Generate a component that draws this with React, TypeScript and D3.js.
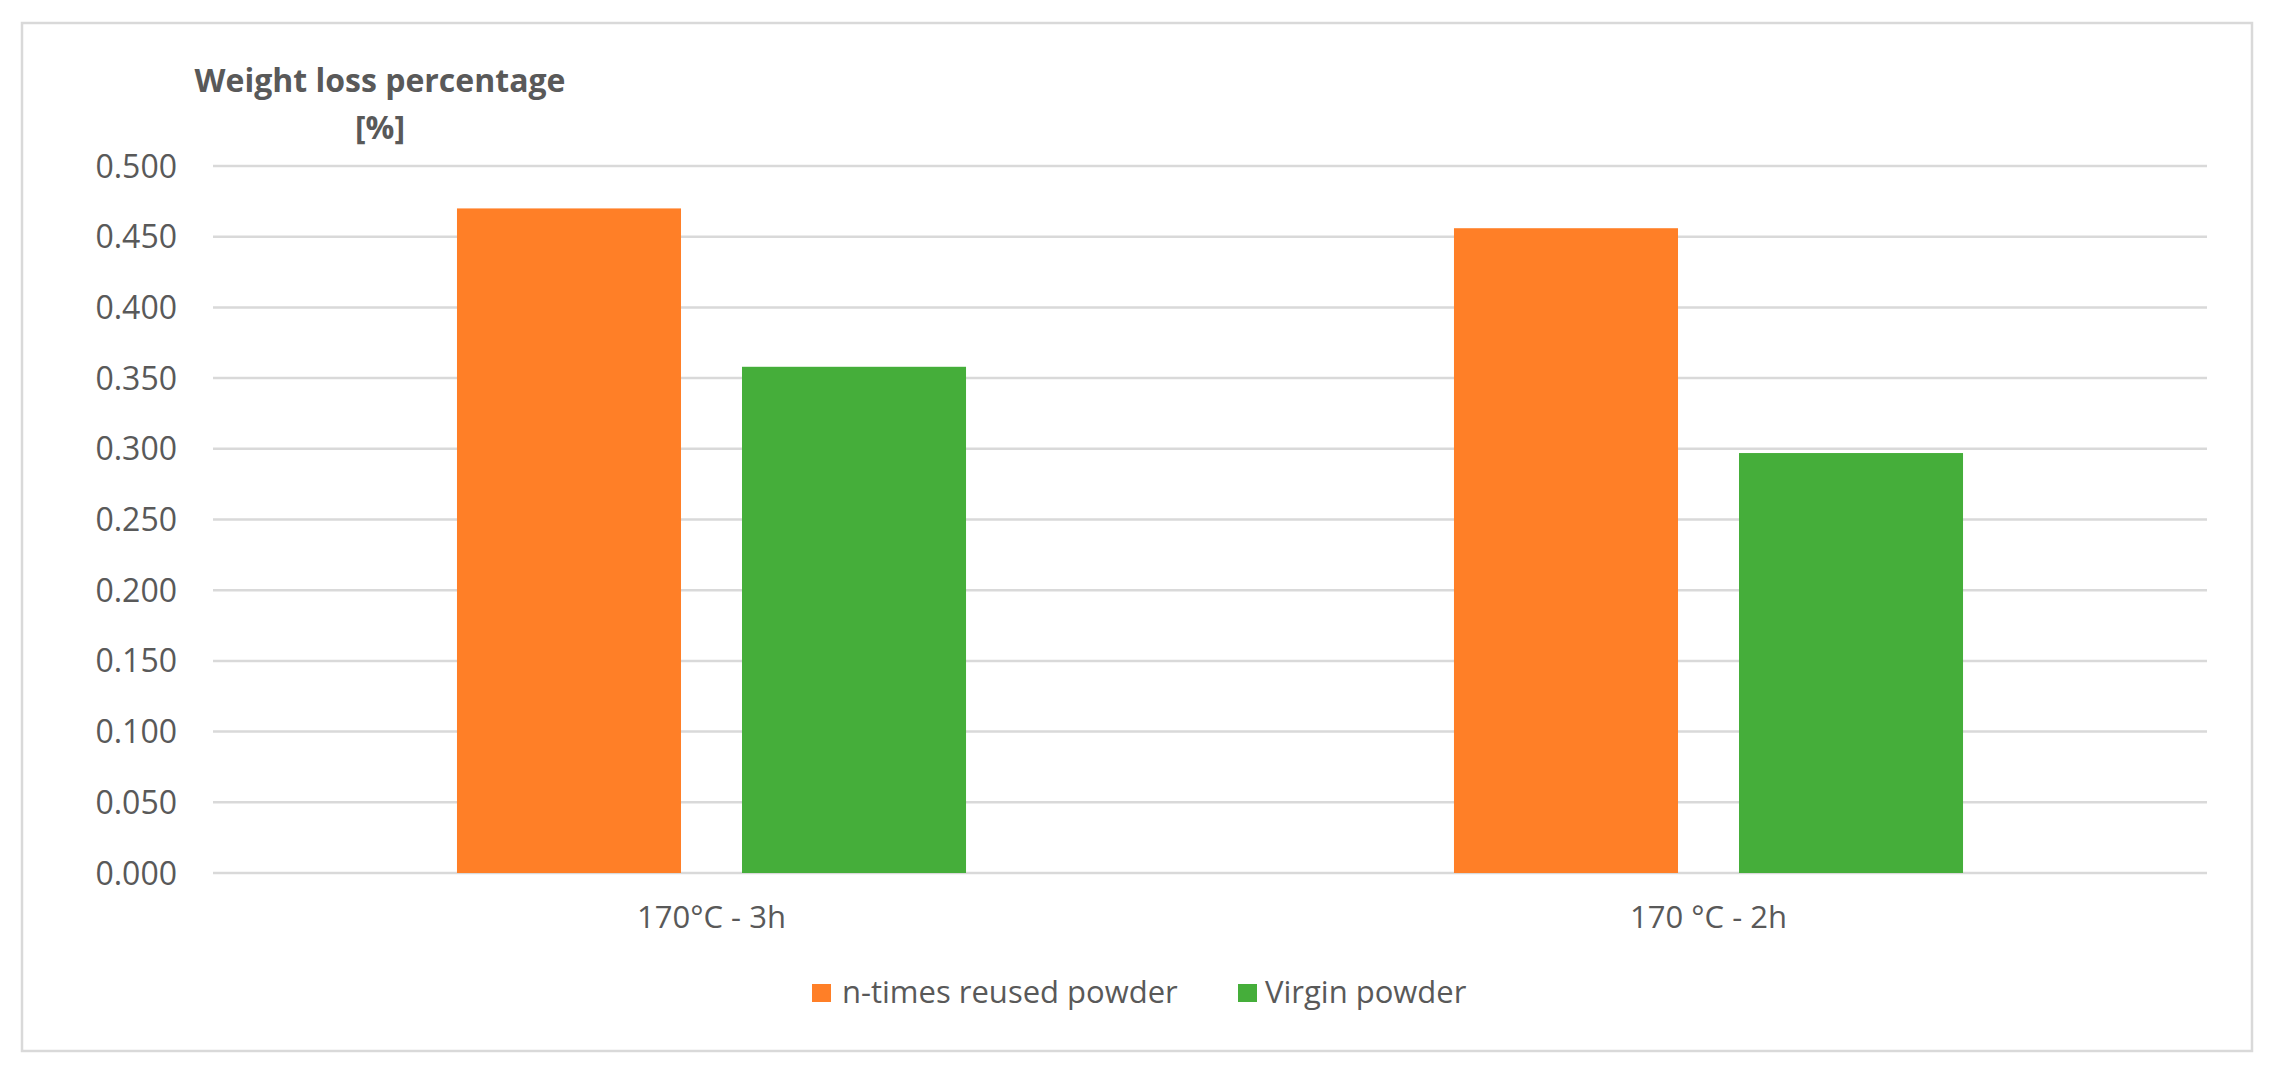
import React from 'react'
import { scaleBand, scaleLinear } from 'd3'

// values
const categories = ['170°C - 3h', '170 °C - 2h']
const seriesNames = ['n-times reused powder', 'Virgin powder']
const reusedValues = [0.470, 0.456]
const virginValues = [0.358, 0.297]
const yTicks = [0, 0.05, 0.1, 0.15, 0.2, 0.25, 0.3, 0.35, 0.4, 0.45, 0.5]
const colors = ['#FF7F27', '#45AE3A']

const W = 2278
const H = 1073
const FONT = '"Open Sans", "Noto Sans", sans-serif'
const TEXT = '#595959'
const GRID = '#d9d9d9'

const App = () => {
  const series = [reusedValues, virginValues]

  // plot area
  const left = 213
  const right = 2207
  const top = 166
  const bottom = 873

  const x0 = scaleBand().domain(categories).range([left, right])
  const x1 = scaleBand()
    .domain(seriesNames)
    .range([0, x0.bandwidth()])
    .paddingInner(0.214)
    .paddingOuter(0.856)
  const y = scaleLinear().domain([0, 0.5]).range([bottom, top])

  return (
    <svg width={W} height={H} style={{ position: 'absolute', left: 0, top: 0, background: '#fff' }} fontFamily={FONT}>
      <rect x={22} y={23} width={2230} height={1028} fill="#fff" stroke={GRID} strokeWidth={2.5} />

      {/* value axis title */}
      <text x={380} y={92} textAnchor="middle" fontSize={32} fontWeight="bold" fill={TEXT}>Weight loss percentage</text>
      <text x={380} y={139} textAnchor="middle" fontSize={32} fontWeight="bold" fill={TEXT}>[%]</text>

      {/* grid + tick labels */}
      {yTicks.map(t => (
        <g key={t}>
          <line x1={left} x2={right} y1={y(t)} y2={y(t)} stroke={GRID} strokeWidth={2.5} />
          <text x={177} y={y(t)} dy="0.36em" textAnchor="end" fontSize={32} fill={TEXT}>{t.toFixed(3)}</text>
        </g>
      ))}

      {/* bars */}
      {categories.map((c, i) => (
        <g key={c} transform={`translate(${x0(c)},0)`}>
          {seriesNames.map((s, j) => (
            <rect
              key={s}
              x={x1(s)}
              y={y(series[j][i])}
              width={x1.bandwidth()}
              height={y(0) - y(series[j][i])}
              fill={colors[j]}
            />
          ))}
          <text x={x0.bandwidth() / 2} y={928} textAnchor="middle" fontSize={31} fill={TEXT}>{c}</text>
        </g>
      ))}

      {/* legend */}
      <g>
        <rect x={812} y={984} width={19} height={18} fill={colors[0]} />
        <text x={842} y={1003} fontSize={31} fill={TEXT}>{seriesNames[0]}</text>
        <rect x={1238} y={984} width={19} height={18} fill={colors[1]} />
        <text x={1265} y={1003} fontSize={31} fill={TEXT}>{seriesNames[1]}</text>
      </g>
    </svg>
  )
}

export default App
